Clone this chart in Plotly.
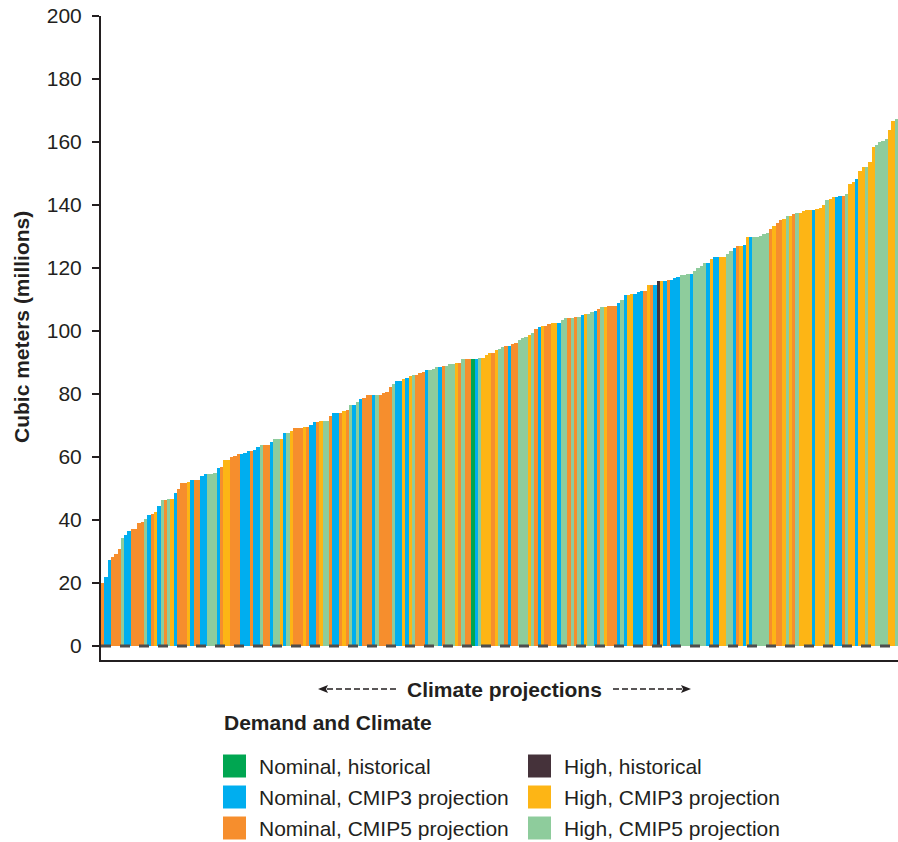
import plotly.graph_objects as go

# ---- data -------------------------------------------------------------
group_names = ["Nominal, historical", "Nominal, CMIP3 projection", "Nominal, CMIP5 projection",
               "High, historical", "High, CMIP3 projection", "High, CMIP5 projection"]
group_codes = ["NH", "N3", "N5", "HH", "H3", "H5"]
group_colors = ["#00a651", "#00aeef", "#f68e2d", "#45323a", "#fdb515", "#8ecc9c"]

bar_groups = [
    "N5", "N3", "N3", "N5", "N5", "N5", "H5", "N3", "N3", "N5",
    "N5", "N5", "N5", "H5", "N3", "N5", "H3", "N3", "H5", "N5",
    "H5", "H3", "N3", "N5", "N5", "N5", "H3", "N3", "N5", "N5",
    "N3", "N3", "H5", "H5", "H5", "N3", "N5", "H3", "H3", "N5",
    "N5", "N5", "N3", "N3", "N3", "N5", "N3", "N3", "H5", "N5",
    "N5", "N3", "H5", "H5", "H3", "N3", "H5", "H3",
    "N5", "N5", "N5", "H3", "N5", "N3", "N3", "N5", "H3", "H5",
    "H5", "N5", "N3", "N3", "N5", "H3", "N5", "H5", "N3", "H5",
    "N3", "N5", "N5", "N5", "N3", "H5", "N5", "N5", "N5", "N5",
    "H5", "N3", "N3", "H3", "N3", "H3", "H5", "N5", "N5", "N5",
    "N3", "H5", "H5", "H5", "N3", "N5", "H5", "H5", "H5", "H3",
    "N5", "H5", "N5", "N5", "NH", "N3", "H5", "H3", "H3", "H3",
    "N5", "H3", "H5", "H5", "N5", "N3", "N5", "N5", "H5", "H5",
    "H5", "H3", "H5", "N5", "N3", "H3", "N5", "N5", "H3", "H3",
    "N3", "H5", "H5", "N5", "H5", "N5", "H5", "N3", "H3", "H5",
    "H5", "N3", "N5", "H5", "H3", "N5", "N5", "N5", "N3", "H5",
    "N3", "H3", "H3", "N3", "N3", "N3", "N5", "H3", "N5", "N3",
    "HH", "H3", "N3", "N5", "N3", "N3", "N3", "H5", "H5", "H5",
    "N3", "H5", "H5", "H5",
    "H5", "N3", "H3", "N3", "N3", "H3", "H3", "H5", "H5", "N3",
    "N5", "H3", "N3", "H3", "N3", "H5", "H5", "H5", "H5", "H5",
    "N5", "H3", "N5", "N5", "H3", "H5", "H3", "N5", "H5", "H3",
    "H3", "H3", "H3", "N3", "H3", "H3", "H3", "H5", "H3", "H3",
    "N3", "N3", "N5", "H5", "H3", "H3", "N3", "H3", "H3", "H5",
    "H3", "H3", "H5", "H5", "H5", "H5", "H3", "H3", "H5",
]

bar_values = [
    20.0, 21.9, 27.3, 28.3, 29.2, 30.8, 34.3, 35.2, 36.5, 37.1,
    37.1, 39.0, 39.3, 40.3, 41.6, 41.9, 42.5, 44.4, 46.3, 46.3,
    46.6, 46.6, 48.6, 49.8, 51.7, 51.7, 52.0, 52.7, 52.7, 52.7,
    54.0, 54.6, 54.6, 54.6, 54.9, 56.5, 56.8, 59.0, 59.0, 60.0,
    60.3, 60.9, 60.9, 61.3, 61.9, 61.9, 62.2, 63.2, 63.8, 63.8,
    63.8, 64.8, 65.7, 65.7, 65.7, 67.6, 67.6, 68.3,
    69.2, 69.2, 69.2, 69.5, 69.5, 70.2, 71.1, 71.1, 71.4, 71.4,
    71.4, 73.0, 74.0, 74.0, 74.0, 74.6, 74.9, 76.5, 76.5, 77.5,
    78.4, 78.7, 79.7, 79.7, 79.7, 79.7, 79.7, 80.3, 80.6, 82.2,
    83.2, 84.1, 84.1, 84.8, 85.1, 85.7, 86.0, 86.0, 86.7, 87.0,
    87.6, 87.6, 87.9, 88.6, 88.6, 88.9, 88.9, 89.5, 89.5, 89.8,
    89.8, 91.1, 91.1, 91.1, 91.1, 91.1, 91.4, 91.4, 92.4, 93.0,
    93.0, 94.0, 94.3, 94.9, 95.2, 95.2, 95.9, 96.2, 97.1, 97.8,
    98.1, 98.7, 99.4, 100.6, 101.3, 101.6, 101.6, 102.2, 102.5, 102.5,
    102.5, 103.5, 104.1, 104.1, 104.1, 104.4, 104.4, 105.1, 105.4, 105.4,
    106.0, 106.3, 107.0, 107.6, 107.6, 107.9, 107.9, 107.9, 108.9, 109.8,
    111.4, 111.4, 111.7, 111.7, 112.4, 112.7, 112.7, 114.6, 114.6, 114.6,
    115.9, 115.9, 115.9, 116.2, 116.2, 116.8, 117.1, 117.8, 117.8, 118.1,
    118.1, 119.0, 120.0, 120.6,
    121.6, 121.6, 123.0, 123.4, 123.4, 123.4, 123.4, 124.6, 125.4, 126.4,
    127.1, 127.1, 127.4, 129.8, 129.8, 129.8, 129.8, 130.1, 130.8, 131.1,
    132.5, 133.4, 134.3, 135.2, 135.6, 136.5, 136.5, 137.2, 137.5, 137.5,
    138.1, 138.4, 138.4, 138.4, 138.8, 139.1, 140.0, 141.6, 141.9, 142.5,
    142.5, 142.8, 142.8, 143.5, 146.7, 147.3, 148.3, 150.8, 152.0, 152.0,
    153.6, 158.4, 159.0, 160.0, 160.3, 161.1, 163.8, 166.6, 167.3,
]

y_ticks = [0, 20, 40, 60, 80, 100, 120, 140, 160, 180, 200]

# ---- figure -----------------------------------------------------------
W, H = 898, 842
L, R, T, B = 101, 0, 16, 182
PW, PH = W - L - R, H - T - B
FONT = "Liberation Sans, Arial, Helvetica, sans-serif"
TXT = "#231f20"

color_of = dict(zip(group_codes, group_colors))
n = len(bar_values)

fig = go.Figure()
fig.add_trace(go.Bar(
    x=list(range(n)), y=bar_values,
    marker=dict(color=[color_of[g] for g in bar_groups], line=dict(width=0)),
    showlegend=False, hoverinfo="y",
))


def px(xp):
    return (xp - L) / PW


def py(yp):
    return (H - B - yp) / PH


shapes = [
    # dashed zero line
    dict(type="line", xref="paper", yref="y", x0=0, x1=1, y0=0, y1=0,
         line=dict(color="#4d4d4d", width=3, dash="10px,9px"), layer="above"),
    # arrows around "Climate projections"
    dict(type="line", xref="paper", yref="paper", x0=px(327), x1=px(396), y0=py(689), y1=py(689),
         line=dict(color=TXT, width=1.5, dash="6px,3px")),
    dict(type="line", xref="paper", yref="paper", x0=px(613), x1=px(682), y0=py(689), y1=py(689),
         line=dict(color=TXT, width=1.5, dash="6px,3px")),
    dict(type="path", xref="paper", yref="paper",
         path=f"M {px(318)},{py(689)} L {px(328)},{py(685)} L {px(326)},{py(689)} L {px(328)},{py(693)} Z",
         fillcolor=TXT, line=dict(width=0)),
    dict(type="path", xref="paper", yref="paper",
         path=f"M {px(691)},{py(689)} L {px(681)},{py(685)} L {px(683)},{py(689)} L {px(681)},{py(693)} Z",
         fillcolor=TXT, line=dict(width=0)),
]

annotations = [
    dict(text="<b>Cubic meters (millions)</b>", textangle=-90, xref="paper", yref="paper",
         x=px(21), y=py(327), xanchor="center", yanchor="middle", showarrow=False,
         font=dict(size=21, color=TXT, family=FONT)),
    dict(text="<b>Climate projections</b>", xref="paper", yref="paper",
         x=px(504), y=py(689), xanchor="center", yanchor="middle", showarrow=False,
         font=dict(size=21, color=TXT, family=FONT)),
    dict(text="<b>Demand and Climate</b>", xref="paper", yref="paper",
         x=px(222), y=py(722), xanchor="left", yanchor="middle", showarrow=False,
         font=dict(size=21, color=TXT, family=FONT)),
]

# manual legend (two columns)
for i, (name, col) in enumerate(zip(group_names, group_colors)):
    c, r = i // 3, i % 3
    x0 = 223 + c * 305
    yc = 766 + r * 31
    shapes.append(dict(type="rect", xref="paper", yref="paper",
                       x0=px(x0), x1=px(x0 + 23), y0=py(yc - 11.5), y1=py(yc + 11.5),
                       fillcolor=col, line=dict(width=0)))
    annotations.append(dict(text=name, xref="paper", yref="paper",
                            x=px(x0 + 34), y=py(yc), xanchor="left", yanchor="middle",
                            showarrow=False, font=dict(size=21, color=TXT, family=FONT)))

fig.update_layout(
    width=W, height=H,
    margin=dict(l=L, r=R, t=T, b=B, pad=0),
    paper_bgcolor="white", plot_bgcolor="white",
    bargap=0,
    font=dict(family=FONT, color=TXT, size=21),
    xaxis=dict(range=[-0.5, n - 0.5], showticklabels=False, ticks="", showgrid=False,
               zeroline=False, showline=True, linecolor=TXT, linewidth=2),
    yaxis=dict(range=[-4.44, 200], tickvals=y_ticks, ticks="outside", ticklen=7,
               tickwidth=1.5, tickcolor=TXT, showgrid=False, zeroline=False,
               showline=True, linecolor=TXT, linewidth=2,
               tickfont=dict(size=21, color=TXT, family=FONT), ticklabelstandoff=6),
    shapes=shapes,
    annotations=annotations,
)

fig.write_html(
    "out.html",
    config={"displayModeBar": False},
    post_script="document.body.style.margin='0px';document.body.style.padding='0px';"
                "document.body.style.overflow='hidden';",
)
